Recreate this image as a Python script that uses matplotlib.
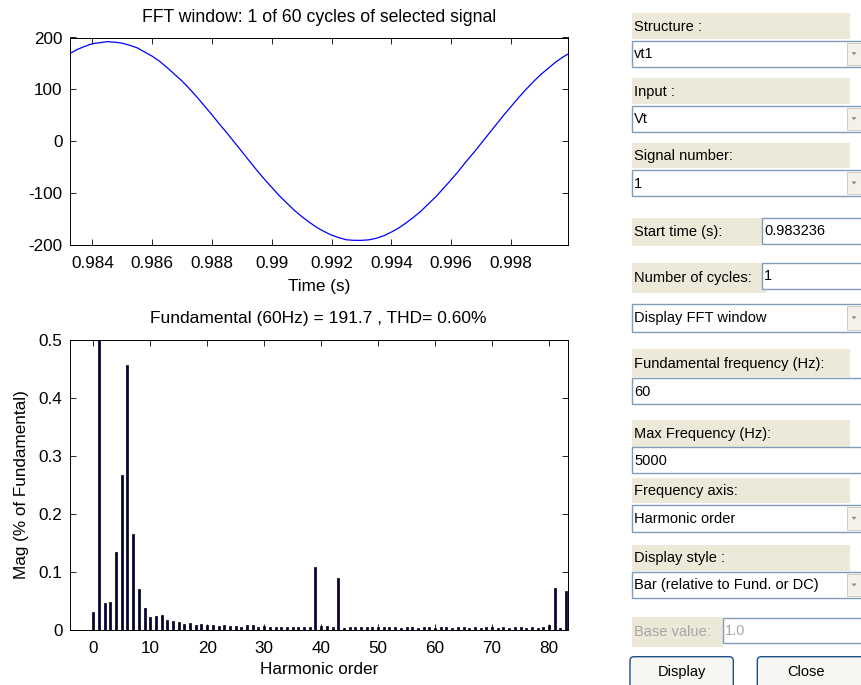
import matplotlib
matplotlib.use('Agg')
import matplotlib.pyplot as plt
from matplotlib.patches import Rectangle, FancyBboxPatch, Polygon

plt.rcParams['font.family'] = ['Liberation Sans', 'DejaVu Sans']
plt.rcParams['axes.unicode_minus'] = False

# FFT window: one cycle of the selected signal
t_start = 0.983236
t_end = 0.999903
time_s = [0.983236, 0.9835, 0.98375, 0.984, 0.98425, 0.9845, 0.98475, 0.985,
          0.98525, 0.9855, 0.98575, 0.986, 0.98625, 0.9865, 0.98675, 0.987,
          0.98725, 0.9875, 0.98775, 0.988, 0.98825, 0.9885, 0.98875, 0.989,
          0.98925, 0.9895, 0.98975, 0.99, 0.99025, 0.9905, 0.99075, 0.991,
          0.99125, 0.9915, 0.99175, 0.992, 0.99225, 0.9925, 0.99275, 0.993,
          0.99325, 0.9935, 0.99375, 0.994, 0.99425, 0.9945, 0.99475, 0.995,
          0.99525, 0.9955, 0.99575, 0.996, 0.99625, 0.9965, 0.99675, 0.997,
          0.99725, 0.9975, 0.99775, 0.998, 0.99825, 0.9985, 0.99875, 0.999,
          0.99925, 0.9995, 0.99975, 0.999903]
volts = [169, 177, 183, 188, 190, 192, 191, 189, 185, 180, 172, 164, 154, 142,
         129, 116, 101, 85, 68, 51, 33, 16, -2, -20, -38, -56, -73, -89, -105,
         -119, -133, -145, -156, -166, -174, -181, -186, -190, -191, -191, -190,
         -187, -182, -175, -167, -157, -146, -134, -120, -106, -90, -74, -57,
         -39, -22, -4, 14, 32, 50, 67, 84, 100, 115, 129, 141, 153, 163, 168]
time_ticks = [0.984, 0.986, 0.988, 0.99, 0.992, 0.994, 0.996, 0.998]
time_labels = ['0.984', '0.986', '0.988', '0.99', '0.992', '0.994', '0.996', '0.998']
volt_ticks = [-200, -100, 0, 100, 200]

# harmonic spectrum, % of fundamental (order 0 = DC, order 1 = fundamental)
harmonic_order = list(range(84))
harmonic_mag = [0.031, 100.0, 0.046, 0.048, 0.135, 0.267, 0.457, 0.166, 0.070, 0.038,
                0.022, 0.024, 0.026, 0.017, 0.016, 0.014, 0.010, 0.012, 0.008, 0.010,
                0.008, 0.008, 0.007, 0.008, 0.007, 0.007, 0.006, 0.008, 0.008, 0.006,
                0.007, 0.006, 0.006, 0.005, 0.006, 0.005, 0.006, 0.006, 0.005, 0.109,
                0.007, 0.007, 0.006, 0.089, 0.004, 0.005, 0.006, 0.005, 0.006, 0.005,
                0.005, 0.006, 0.005, 0.005, 0.004, 0.005, 0.005, 0.004, 0.005, 0.005,
                0.004, 0.005, 0.005, 0.004, 0.005, 0.005, 0.004, 0.005, 0.004, 0.005,
                0.005, 0.004, 0.005, 0.004, 0.005, 0.005, 0.004, 0.005, 0.004, 0.005,
                0.008, 0.072, 0.004, 0.068]
max_order = 5000 / 60.0
mag_ticks = [0, 0.1, 0.2, 0.3, 0.4, 0.5]
mag_labels = ['0', '0.1', '0.2', '0.3', '0.4', '0.5']
order_ticks = [0, 10, 20, 30, 40, 50, 60, 70, 80]

# GUI panel on the right
panel_labels = ['Structure :', 'Input :', 'Signal number:', 'Fundamental frequency (Hz):',
                'Max Frequency (Hz):', 'Frequency axis:', 'Display style :']
popup_values = ['vt1', 'Vt', '1', 'Display FFT window', 'Harmonic order',
                'Bar (relative to Fund. or DC)']
edit_values = ['60', '5000']
short_labels = ['Start time (s):', 'Number of cycles:', 'Base value:']
short_values = ['0.983236', '1', '1.0']
button_labels = ['Display', 'Close']

W, H = 861, 685
FS = 12.3

fig = plt.figure(figsize=(W / 100, H / 100), dpi=100)


def px_axes(x0, y0, x1, y1):
    return fig.add_axes([x0 / W, 1 - y1 / H, (x1 - x0) / W, (y1 - y0) / H])


def style(ax):
    ax.tick_params(direction='in', top=True, right=True, length=4, width=0.6,
                   labelsize=FS)
    ax.tick_params(axis='x', pad=8)
    ax.tick_params(axis='y', pad=5)
    for s in ax.spines.values():
        s.set_linewidth(0.7)


# top: time signal
ax1 = px_axes(69.5, 37.5, 568, 245)
ax1.plot(time_s, volts, color='#0000ff', lw=0.9)
ax1.set_xlim(t_start, t_end)
ax1.set_ylim(-200, 200)
ax1.set_xticks(time_ticks)
ax1.set_xticklabels(time_labels)
ax1.set_yticks(volt_ticks)
ax1.set_title('FFT window: 1 of 60 cycles of selected signal', fontsize=FS + 0.4, pad=11)
ax1.set_xlabel('Time (s)', fontsize=FS, labelpad=6)
style(ax1)

# bottom: harmonic spectrum
ax2 = px_axes(69.5, 340, 568, 630)
ax2.bar(harmonic_order, harmonic_mag, width=0.35, color='#000050', edgecolor='black', lw=0.5)
ax2.set_xlim(-max_order / 20, max_order)
ax2.set_ylim(0, 0.5)
ax2.set_xticks(order_ticks)
ax2.set_yticks(mag_ticks)
ax2.set_yticklabels(mag_labels)
ax2.set_title('Fundamental (60Hz) = 191.7 , THD= 0.60%', fontsize=FS + 0.2, pad=12)
ax2.set_xlabel('Harmonic order', fontsize=FS, labelpad=4)
ax2.set_ylabel('Mag (% of Fundamental)', fontsize=FS, labelpad=7)
style(ax2)

# GUI drawn in pixel coordinates
g = fig.add_axes([0, 0, 1, 1], zorder=-1)
g.set_xlim(0, W)
g.set_ylim(H, 0)
g.axis('off')

BEIGE = '#ece9d8'
BORDER = '#7f9db9'
GFS = 10.5
X0, X1 = 631.5, 850


def label_bg(text, y0, y1, x1=X1, color='black'):
    g.add_patch(Rectangle((X0, y0), x1 - X0, y1 - y0, fc=BEIGE, ec='none'))
    g.text(X0 + 2, (y0 + y1) / 2 + 0.5, text, fontsize=GFS, va='center', ha='left', color=color)


def edit_box(text, x0, y0, y1, color='black'):
    g.add_patch(Rectangle((x0, y0), W + 5 - x0, y1 - y0, fc='white', ec=BORDER, lw=1.0))
    g.text(x0 + 2.5, (y0 + y1) / 2 + 0.5, text, fontsize=GFS, va='center', ha='left', color=color)


def popup(text, y0, y1):
    edit_box(text, X0, y0, y1)
    g.add_patch(Rectangle((846.5, y0 + 2), 20, y1 - y0 - 4, fc='#f3f1ea', ec='#c9c7ba', lw=0.6))
    cy = (y0 + y1) / 2
    g.add_patch(Polygon([[851.5, cy - 1.5], [856.5, cy - 1.5], [854, cy + 1.5]],
                        closed=True, fc='#8a8a8a', ec='none'))


label_rows = [(12.7, 39.3), (78.3, 104.0), (142.7, 168.3), (349.3, 376.7),
              (420.0, 446.7), (478.3, 503.3), (545.0, 570.7)]
for txt, (y0, y1) in zip(panel_labels, label_rows):
    label_bg(txt, y0, y1)

popup_rows = [(40.7, 66.7), (105.7, 131.7), (170.0, 196.0), (304.0, 331.7),
              (505.0, 531.7), (571.7, 598.3)]
for txt, (y0, y1) in zip(popup_values, popup_rows):
    popup(txt, y0, y1)

edit_rows = [(377.7, 404.3), (447.3, 473.3)]
for txt, (y0, y1) in zip(edit_values, edit_rows):
    edit_box(txt, X0, y0, y1)

short_rows = [(218.3, 245.5, 761.7, 218.3, 243.5),
              (262.7, 292.7, 765.5, 262.7, 289.0),
              (616.7, 646.7, 722.7, 618.3, 642.7)]
for i, (txt, val, (ly0, ly1, xs, by0, by1)) in enumerate(zip(short_labels, short_values, short_rows)):
    c = '#a6a6a6' if i == 2 else 'black'
    label_bg(txt, ly0, ly1, x1=xs, color=c)
    edit_box(val, xs - 4 if i == 1 else xs, by0, by1, color=c)

button_cols = [(630.0, 733.3), (757.3, 880.0)]
for txt, (x0, x1) in zip(button_labels, button_cols):
    g.add_patch(FancyBboxPatch((x0, 656.7), x1 - x0, 40, boxstyle='round,pad=0,rounding_size=4',
                               fc='#f6f6f2', ec='#1c4f86', lw=1.0))
    g.text((x0 + min(x1, W + 12)) / 2 - (9 if x1 > W else 0), 672, txt, fontsize=GFS,
           ha='center', va='center')

fig.savefig('out.png', dpi=100)
